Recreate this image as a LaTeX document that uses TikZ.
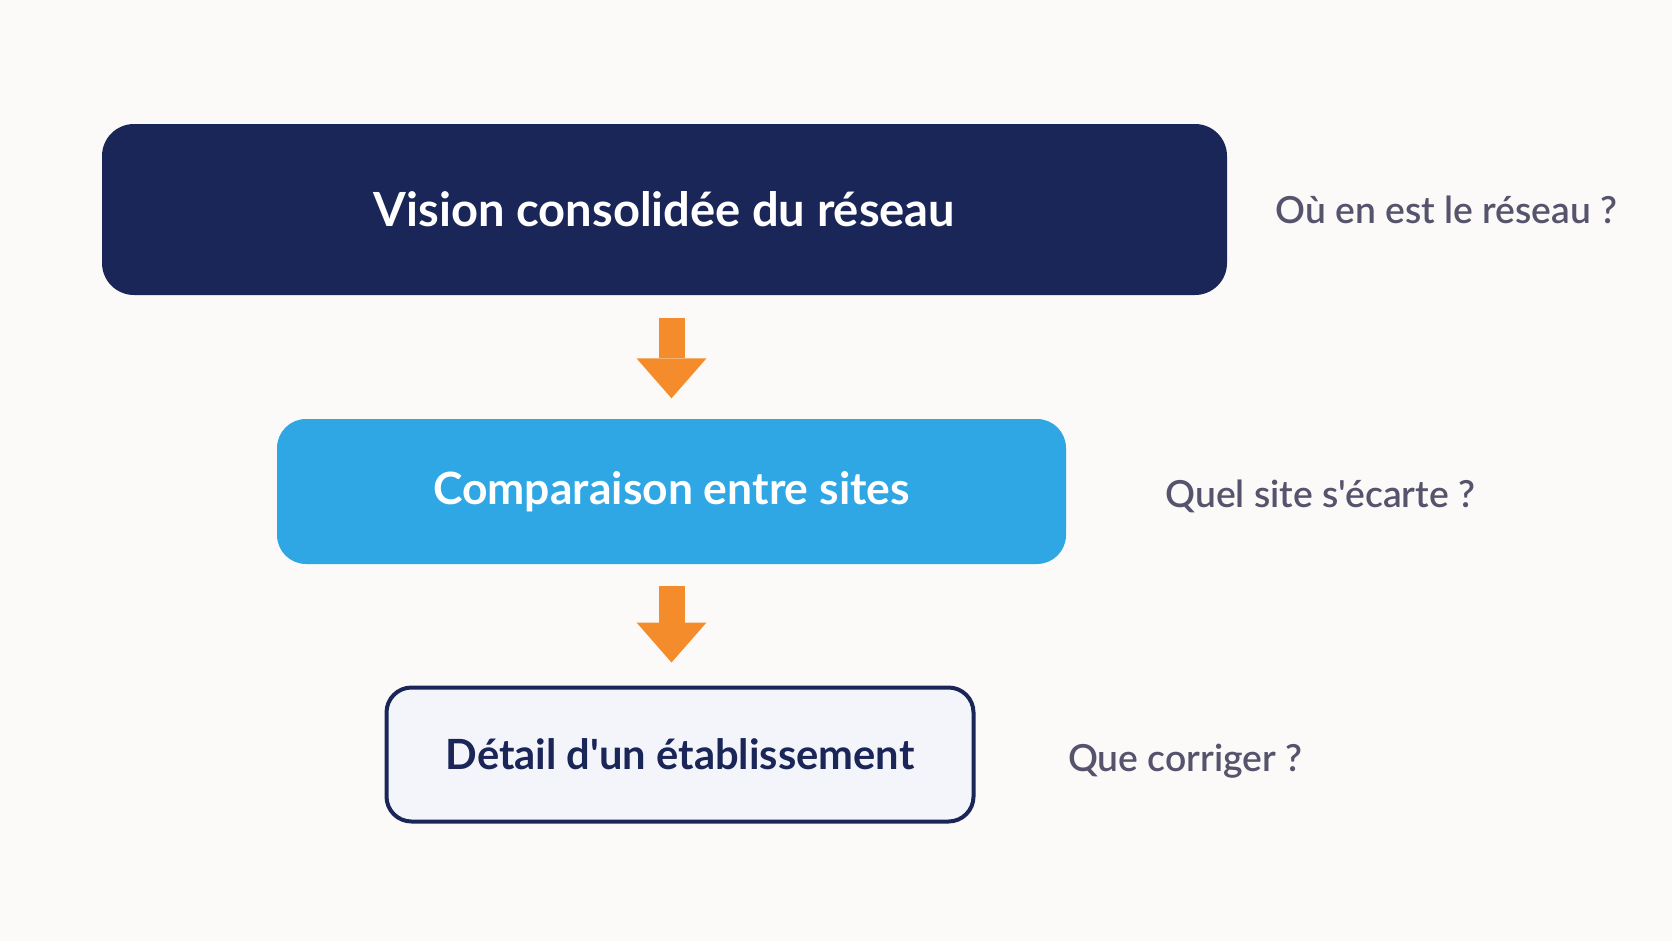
\documentclass[tikz,border=0pt]{standalone}
\usepackage{fontspec}
\setmainfont{Lato}
\newfontfamily\boxfont{Lato Bold}
\newfontfamily\askfont{Lato Semibold}
\usetikzlibrary{arrows.meta,positioning,calc}
\definecolor{bgcol}{HTML}{FBFAF8}
\definecolor{navy}{HTML}{1A2657}
\definecolor{sky}{HTML}{2EA7E4}
\definecolor{flowor}{HTML}{F58C2B}
\definecolor{pale}{HTML}{F4F5FA}
\definecolor{askgray}{HTML}{56536C}
\tikzset{
  level/.style={rectangle, inner sep=0pt, font=\boxfont\fontsize{13.4}{16}\selectfont},
  flow/.style={flowor, line width=0.26cm, -{Triangle[width=0.70cm, length=0.40cm, line width=0pt]}},
  ask/.style={anchor=west, inner sep=0pt, text=askgray, font=\askfont\fontsize{10.6}{13}\selectfont}
}
\begin{document}
\begin{tikzpicture}
    % Background and page size
    \fill[bgcol] (0,0) rectangle (16.72,-9.41);
    \useasboundingbox (0,0) rectangle (16.72,-9.41);

    % Levels of analysis
    \node[level, fill=navy, text=white, rounded corners=0.32cm, minimum width=11.25cm, minimum height=1.71cm] (b1) at (6.645, -2.095) {Vision consolidée du réseau};
    \node[level, fill=sky, text=white, rounded corners=0.29cm, minimum width=7.89cm, minimum height=1.45cm, font=\boxfont\fontsize{12.65}{15}\selectfont] (b2) at (6.715, -4.915) {Comparaison entre sites};
    \node[level, fill=pale, draw=navy, line width=0.04cm, text=navy, rounded corners=0.25cm, minimum width=5.87cm, minimum height=1.34cm, font=\boxfont\fontsize{11.85}{14}\selectfont] (b3) at (6.80, -7.545) {Détail d'un établissement};

    % Drill-down arrows
    \draw[flow] ($(b1.south -| b2.north)+(0,-0.22)$) -- ($(b2.north)+(0,0.20)$);
    \draw[flow] ($(b2.south)+(0,-0.21)$) -- ($(b3.north -| b2.south)+(0,0.23)$);

    % Questions
    \node[ask, right=0.47cm of b1] (q1) {Où en est le réseau ?};
    \node[ask, right=0.98cm of b2, yshift=-0.05cm] (q2) {Quel site s'écarte ?};
    \node[ask, right=0.92cm of b3, yshift=-0.07cm] (q3) {Que corriger ?};
\end{tikzpicture}
\end{document}
